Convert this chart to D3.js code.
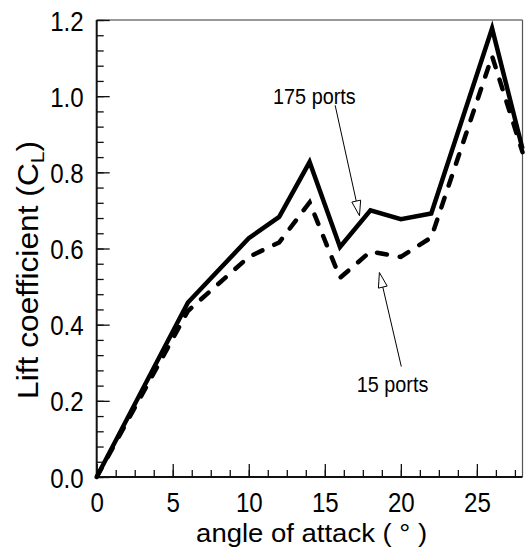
<!DOCTYPE html>
<html><head><meta charset="utf-8">
<script src="https://cdn.jsdelivr.net/npm/d3@7"></script>
<style>body{margin:0;background:#fff}svg{display:block}text{font-family:"Liberation Sans",Arial,sans-serif;fill:#000}</style>
</head><body><svg id="c" width="525" height="548"></svg>
<script>
const angles175 = [0, 6, 10, 12, 14, 16, 18, 20, 22, 26, 28];
const cl175     = [0, 0.458, 0.627, 0.683, 0.827, 0.604, 0.700, 0.677, 0.692, 1.178, 0.862];
const angles15  = [0, 6, 10, 12, 14, 16, 18, 20, 22, 26, 28];
const cl15      = [0, 0.436, 0.578, 0.616, 0.721, 0.523, 0.592, 0.578, 0.629, 1.105, 0.853];
const xTicks = [0, 5, 10, 15, 20, 25];
const yTicks = [0, 0.2, 0.4, 0.6, 0.8, 1.0, 1.2];
const labels = [
  {text: "175 ports", x: 11.6, y: 0.98, ax: 15.68, ay: 0.976, tx: 17.28, ty: 0.686},
  {text: "15 ports",  x: 17.1, y: 0.222, ax: 20.03, ay: 0.29, tx: 18.59, ty: 0.537}
];

const svg = d3.select("#c");
const L = 96.7, R = 522.5, T = 20, B = 477;
const x = d3.scaleLinear().domain([0, 28]).range([L, R]);
const y = d3.scaleLinear().domain([0, 1.2]).range([B, T]);

// frame top/right
svg.append("line").attr("x1", L).attr("x2", R).attr("y1", T).attr("y2", T).attr("stroke", "#777").attr("stroke-width", 1.5);
svg.append("line").attr("x1", R).attr("x2", R).attr("y1", T).attr("y2", B).attr("stroke", "#555").attr("stroke-width", 1.2);

function condense(sel, f) {
  sel.each(function() {
    const w = this.getComputedTextLength();
    d3.select(this).attr("textLength", w * f).attr("lengthAdjust", "spacingAndGlyphs");
  });
}

// y axis
const yMinor = d3.range(0, 1.2001, 0.04);
const gy = svg.append("g").attr("transform", `translate(${L},0)`);
gy.call(d3.axisRight(y).tickValues(yMinor).tickSize(7).tickFormat(""));
const gy2 = svg.append("g").attr("transform", `translate(${L},0)`);
gy2.call(d3.axisRight(y).tickValues(yTicks).tickSize(13).tickFormat(d3.format(".1f")));
gy2.selectAll("text").attr("x", -13).attr("text-anchor", "end").attr("dy", "0.36em").style("font-size", "28px");
condense(gy2.selectAll("text"), 0.86);

// x axis
const xMinor = d3.range(0, 28.001, 1.25);
const gx = svg.append("g").attr("transform", `translate(0,${B})`);
gx.call(d3.axisTop(x).tickValues(xMinor).tickSize(7).tickFormat(""));
const gx2 = svg.append("g").attr("transform", `translate(0,${B})`);
gx2.call(d3.axisTop(x).tickValues(xTicks).tickSize(13).tickFormat(d3.format("d")));
gx2.selectAll("text").attr("y", 35).attr("dy", 0).style("font-size", "28px");
condense(gx2.selectAll("text"), 0.86);

[gy, gy2, gx, gx2].forEach(g => {
  g.selectAll(".domain").attr("stroke", "#111").attr("stroke-width", 2);
  g.selectAll(".tick line").attr("stroke", "#111").attr("stroke-width", 1.3);
  g.selectAll("text").attr("fill", "#000");
});
gy.select(".domain").remove(); gx.select(".domain").remove();
gy2.select(".domain").attr("d", `M0,${T}V${B}`);
gx2.select(".domain").attr("d", `M${L},0H${R}`);

// titles
const xt = svg.append("text").attr("x", (L + R) / 2 + 2).attr("y", 542).attr("text-anchor", "middle").style("font-size", "25px").text("angle of attack ( ° )");
xt.attr("textLength", 231).attr("lengthAdjust", "spacingAndGlyphs");
const yt = svg.append("text").attr("transform", `translate(38,${270}) rotate(-90)`).attr("text-anchor", "middle").style("font-size", "29px");
yt.append("tspan").text("Lift coefficient (C");
yt.append("tspan").attr("dy", 6).style("font-size", "19px").text("L");
yt.append("tspan").attr("dy", -6).text(")");
yt.attr("textLength", 258).attr("lengthAdjust", "spacingAndGlyphs");

// lines
const line = d3.line().x(d => x(d[0])).y(d => y(d[1]));
svg.append("path").datum(d3.zip(angles175, cl175)).attr("d", line)
  .attr("fill", "none").attr("stroke", "#000").attr("stroke-width", 4.5).attr("stroke-linejoin", "miter");
svg.append("path").datum(d3.zip(angles15, cl15)).attr("d", line)
  .attr("fill", "none").attr("stroke", "#000").attr("stroke-width", 4.5)
  .attr("stroke-dasharray", "10 13").attr("stroke-linecap", "round");

// annotations
labels.forEach(a => {
  const t = svg.append("text").attr("x", x(a.x)).attr("y", y(a.y)).style("font-size", "22px").text(a.text);
  condense(t, 0.9);
  const x1 = x(a.ax), y1 = y(a.ay), x2 = x(a.tx), y2 = y(a.ty);
  const ang = Math.atan2(y2 - y1, x2 - x1);
  const hl = 15, hw = 4.5;
  const bx = x2 - hl * Math.cos(ang), by = y2 - hl * Math.sin(ang);
  svg.append("line").attr("x1", x1).attr("y1", y1).attr("x2", bx).attr("y2", by).attr("stroke", "#000").attr("stroke-width", 1);
  const px = -Math.sin(ang), py = Math.cos(ang);
  svg.append("path").attr("d", `M${x2},${y2}L${bx + px * hw},${by + py * hw}L${bx - px * hw},${by - py * hw}Z`)
    .attr("fill", "#fff").attr("stroke", "#000").attr("stroke-width", 1);
});
</script></body></html>
